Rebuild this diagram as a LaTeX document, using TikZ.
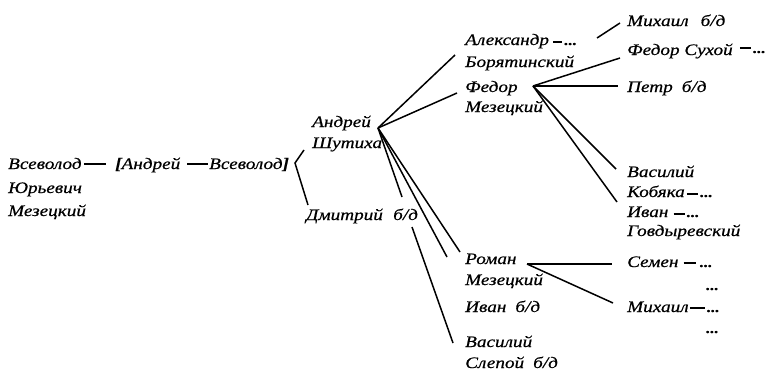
\documentclass[tikz,border=0pt]{standalone}
\usepackage{fontspec}
\usetikzlibrary{calc}
\newfontfamily\tfont[FakeStretch=1.2,FakeBold=0.6]{Liberation Serif}
\begin{document}
\begin{tikzpicture}[x=1pt,y=-1pt,
  lbl/.style={anchor=base west, inner sep=0pt, font=\tfont\itshape\fontsize{16}{19}\selectfont},
  ln/.style={line width=1.5pt, line cap=butt},
  dots/.style={lbl, font=\tfont\bfseries\itshape\fontsize{14}{16}\selectfont}]
\useasboundingbox (0,0) rectangle (771,372);
% left part
\node[lbl] (vs1) at (8,169) {Всеволод};
\node[lbl] (yur) at (8,193) {Юрьевич};
\node[lbl] (mez0) at (8,216) {Мезецкий};
\node[lbl] (and1) at (115,169) {{\bfseries[}Андрей};
\node[lbl] (vs2) at (209,169) {Всеволод{\bfseries]}};
\draw[ln] ($(vs1.base east)+(2,-5)$) -- ($(and1.base west)+(-9,-5)$);
\draw[ln] ($(and1.base east)+(7,-5)$) -- ($(vs2.base west)+(-1,-5)$);
\node[lbl] (andr) at (312,127) {Андрей};
\node[lbl] (shut) at (312,148) {Шутиха};
\node[lbl] (dmit) at (306,220) {Дмитрий};
\node[lbl] (dmbd) at (393,220) {б/д};
% hubs and connector ends
\coordinate (hB) at (295,163);
\coordinate (eSh) at (304,150);
\coordinate (eDm) at (308,205);
\coordinate (hA) at (378,128);
\coordinate (eAl) at (455,55);
\coordinate (eFe) at (457,93);
\coordinate (eVs1) at (402,197);
\coordinate (eVs2) at (412,227);
\coordinate (eVs3) at (453,343);
\coordinate (eIv) at (447,257);
\coordinate (eRo) at (460,252);
\coordinate (hF) at (533,86);
\coordinate (eFs) at (620,58);
\coordinate (ePe) at (618,86);
\coordinate (eVa) at (616,169);
\coordinate (eIv1) at (617,202);
\coordinate (hR) at (527,264);
\coordinate (eSe) at (612,264);
\coordinate (eMi2) at (613,303);
\coordinate (sMi) at (597,38);
\coordinate (eMi) at (620,23);
\draw[ln] (eSh) -- (hB) -- (eDm);
\draw[ln] (hA) -- (eAl);
\draw[ln] (hA) -- (eFe);
\draw[ln] (hA) -- (eVs1);
\draw[ln] (eVs2) -- (eVs3);
\draw[ln] (hA) -- (eIv);
\draw[ln] (hA) -- (eRo);
\draw[ln] (hF) -- (eFs);
\draw[ln] (hF) -- (ePe);
\draw[ln] (hF) -- (eVa);
\draw[ln] (hF) -- (eIv1);
\draw[ln] (hR) -- (eSe);
\draw[ln] (hR) -- (eMi2);
\draw[ln] (sMi) -- (eMi);
% middle column
\node[lbl] (alex) at (465,45) {Александр};
\draw[ln] ($(alex.base east)+(4,-3)$) -- ++(9,0) coordinate (alexd);
\node[dots] (alexdots) at ($(alexd)+(2,3)$) {...};
\node[lbl] (bor) at (465,67) {Борятинский};
\node[lbl] (fed) at (465,92) {Федор};
\node[lbl] (mez1) at (465,112) {Мезецкий};
\node[lbl] (rom) at (465,264) {Роман};
\node[lbl] (mez2) at (465,285) {Мезецкий};
\node[lbl] (ivan2) at (465,312) {Иван\hspace{9pt}б/д};
\node[lbl] (vas2) at (465,347) {Василий};
\node[lbl] (slep) at (465,368) {Слепой\hspace{9pt}б/д};
% right column
\node[lbl] (mikh1) at (627,26) {Михаил\hspace{12pt}б/д};
\node[lbl] (fsuh) at (627,55) {Федор Сухой};
\draw[ln] ($(fsuh.base east)+(7,-7)$) -- ++(11,0) coordinate (fsuhd);
\node[dots] (fsuhdots) at ($(fsuhd)+(2,5)$) {...};
\node[lbl] (petr) at (627,92) {Петр\hspace{9pt}б/д};
\node[lbl] (vas1) at (627,177) {Василий};
\node[lbl] (kob) at (627,197) {Кобяка};
\draw[ln] ($(kob.base east)+(2,-3)$) -- ++(11,0) coordinate (kobd);
\node[dots] (kobdots) at ($(kobd)+(2,3)$) {...};
\node[lbl] (ivan1) at (627,217) {Иван};
\draw[ln] ($(ivan1.base east)+(5,-3)$) -- ++(11,0) coordinate (ivand);
\node[dots] (ivandots) at ($(ivand)+(2,3)$) {...};
\node[lbl] (govd) at (627,236) {Говдыревский};
\node[lbl] (sem) at (627,267) {Семен};
\draw[ln] ($(sem.base east)+(5,-4)$) -- ++(12,0) coordinate (semd);
\node[dots] (semdots) at ($(semd)+(4,4)$) {...};
\node[dots] (dots2) at (706,290) {...};
\node[lbl] (mikh2) at (627,312) {Михаил};
\draw[ln] ($(mikh2.base east)+(1,-4)$) -- ++(15,0) coordinate (mikhd);
\node[dots] (mikhdots) at ($(mikhd)+(2,4)$) {...};
\node[dots] (dots3) at (706,333) {...};
\end{tikzpicture}
\end{document}
